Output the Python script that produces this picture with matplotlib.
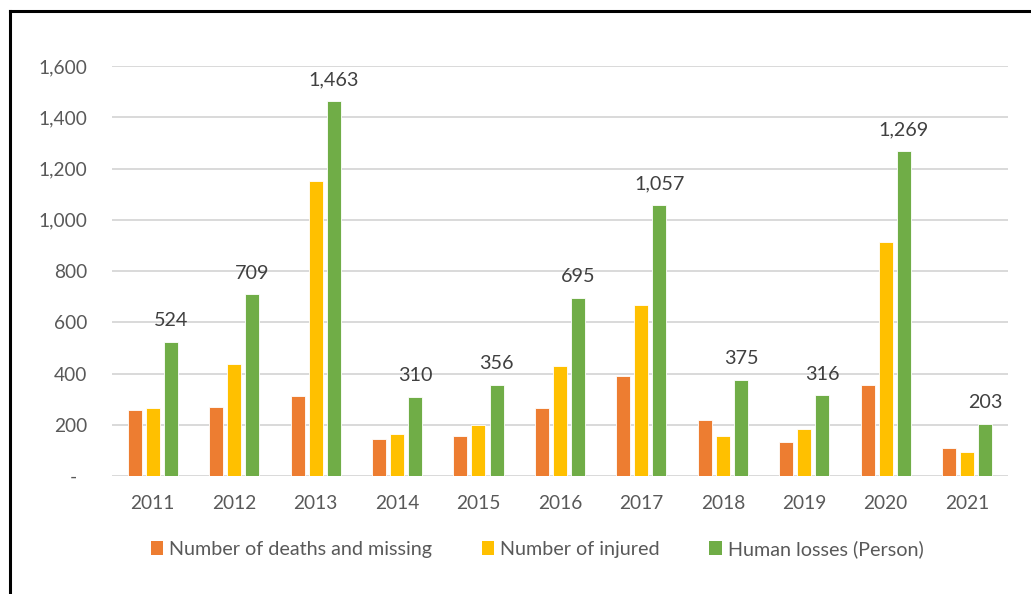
import numpy as np
import matplotlib.pyplot as plt
from matplotlib.lines import Line2D
from matplotlib.patches import Patch
from matplotlib.ticker import FuncFormatter

plt.rcParams['font.family'] = ['Lato', 'DejaVu Sans']

years = ['2011', '2012', '2013', '2014', '2015', '2016',
         '2017', '2018', '2019', '2020', '2021']
deaths_missing = [257, 270, 313, 145, 157, 265, 389, 219, 133, 357, 108]
injured = [267, 439, 1150, 165, 199, 430, 668, 156, 183, 912, 95]
human_losses = [524, 709, 1463, 310, 356, 695, 1057, 375, 316, 1269, 203]

series_names = ['Number of deaths and missing', 'Number of injured',
                'Human losses (Person)']
colors = ['#ED7D31', '#FFC000', '#70AD47']
text_gray = '#595959'

fig = plt.figure(figsize=(10.31, 5.94), dpi=100)
ax = fig.add_axes([0.1086, 0.1987, 0.869, 0.690])

x = np.arange(len(years))
w = 0.172
step = 0.222
for i, (vals, c) in enumerate(zip([deaths_missing, injured, human_losses], colors)):
    bars = ax.bar(x + (i - 1) * step, vals, width=w, color=c,
                  edgecolor='white', linewidth=0.6, zorder=3)
    if i == 2:
        for b, v in zip(bars, vals):
            ax.annotate(f'{v:,}', (b.get_x() + b.get_width() / 2, v),
                        xytext=(0, 9), textcoords='offset points',
                        ha='center', va='bottom', fontsize=14.2,
                        color='#404040')

ax.set_xlim(-0.5, len(years) - 0.5)
ax.set_ylim(0, 1600)
ax.set_yticks(range(0, 1601, 200))
ax.yaxis.set_major_formatter(FuncFormatter(
    lambda v, p: '-  ' if v == 0 else f'{int(v):,}'))
ax.set_xticks(x)
ax.set_xticklabels(years)
ax.tick_params(axis='both', length=0, labelsize=13.8, colors=text_gray)
ax.tick_params(axis='y', pad=18)
ax.tick_params(axis='x', pad=14)
ax.grid(axis='y', color='#D9D9D9', linewidth=1.4, zorder=0)
for s in ax.spines.values():
    s.set_visible(False)

handles = [Patch(facecolor=c, edgecolor='none') for c in colors]
fig.legend(handles, series_names, loc='center', bbox_to_anchor=(0.521, 0.0758),
           ncol=3, frameon=False, fontsize=14.2, labelcolor=text_gray,
           handlelength=0.65, handleheight=0.65, handletextpad=0.3,
           columnspacing=2.5)

# outer frame on the top and left edges
fig.add_artist(Line2D([0.0095, 1.0], [0.9815, 0.9815], color='black',
                      linewidth=2.2, transform=fig.transFigure))
fig.add_artist(Line2D([0.0095, 0.0095], [0.0, 0.9815], color='black',
                      linewidth=2.2, transform=fig.transFigure))

fig.savefig('out.png', dpi=100)
